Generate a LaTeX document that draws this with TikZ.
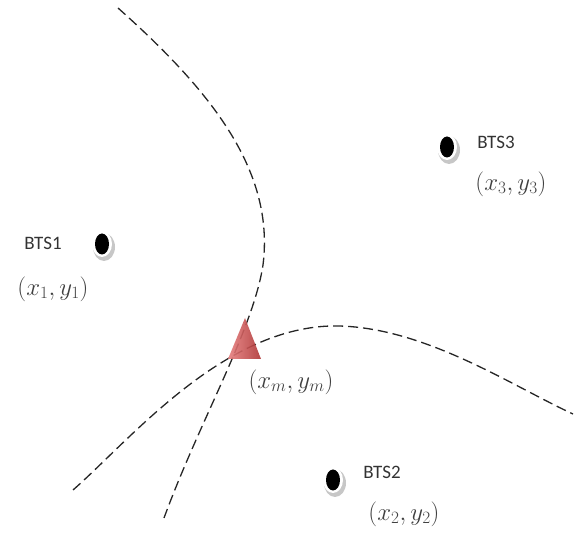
\documentclass[tikz,border=0pt]{standalone}
\usepackage{fontspec}
\setsansfont{Carlito}
\tikzset{
  curve/.style={dash pattern=on 10pt off 5pt, line width=1.3pt, black!85},
  lbl/.style={font=\sffamily\fontsize{19}{21}\selectfont, text=black!80, inner sep=1pt},
  coordlbl/.style={font=\fontsize{24}{26}\selectfont, text=black!75, inner sep=1pt},
  shadowdot/.style={fill=black!22},
  ringdot/.style={fill=white},
  coredot/.style={fill=black},
}
\begin{document}
\begin{tikzpicture}[x=1pt,y=-1pt]
\useasboundingbox (0,0) rectangle (574,537);
% curves
\draw[curve] (118,8) .. controls (210,90) and (275,170) .. (263,265)
  .. controls (253,330) and (200,420) .. (164,518);
\draw[curve] (73,490) .. controls (130,440) and (220,330) .. (330,326)
  .. controls (420,324) and (510,385) .. (573,414);
% BTS dots
\fill[shadowdot] (104,247) ellipse [x radius=11, y radius=14];
\fill[ringdot] (102,244) ellipse [x radius=10, y radius=13];
\fill[coredot] (102,244) ellipse [x radius=7, y radius=10.5] coordinate (b1);
\fill[shadowdot] (449,150) ellipse [x radius=11, y radius=14];
\fill[ringdot] (447,147) ellipse [x radius=10, y radius=13];
\fill[coredot] (447,147) ellipse [x radius=7, y radius=10.5] coordinate (b3);
\fill[shadowdot] (335,483) ellipse [x radius=11, y radius=14];
\fill[ringdot] (333,480) ellipse [x radius=10, y radius=13];
\fill[coredot] (333,480) ellipse [x radius=7, y radius=10.5] coordinate (b2);
% labels
\node[lbl] (t1) at (43,243) {BTS1};
\node[coordlbl] (c1) at (53,289) {$(x_1{,}\mkern3mu y_1)$};
\node[lbl] (t3) at (496,142) {BTS3};
\node[coordlbl] (c3) at (511,184) {$(x_3{,}\mkern3mu y_3)$};
\node[lbl] (t2) at (382,472) {BTS2};
\node[coordlbl] (c2) at (404,514) {$(x_2{,}\mkern3mu y_2)$};
% mobile
\shade[left color=red!45!white!90!black, right color=red!60!black!80, opacity=0.9]
  (228,359) -- (261,359) -- (245,318) -- cycle;
\coordinate (m) at (245,345);
\node[coordlbl] (cm) at (291,382) {$(x_m{,}\mkern3mu y_m)$};
\end{tikzpicture}
\end{document}
